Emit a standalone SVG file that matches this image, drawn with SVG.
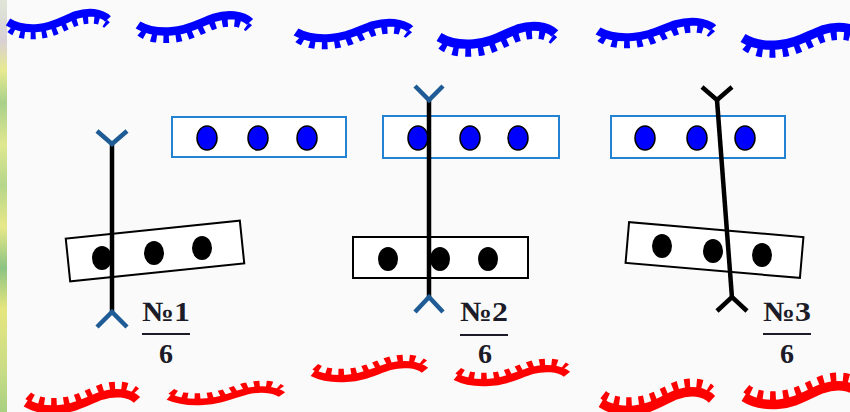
<svg xmlns="http://www.w3.org/2000/svg" xmlns:xlink="http://www.w3.org/1999/xlink" width="850" height="412" viewBox="0 0 850 412">
<style>
.wb{fill:none;stroke:#0000ff;stroke-width:8}
.wbt{fill:none;stroke:#0000ff;stroke-width:8;stroke-dasharray:5 6}
.wr{fill:none;stroke:#ff0000;stroke-width:8}
.wrt{fill:none;stroke:#ff0000;stroke-width:8;stroke-dasharray:5 6}
.brect{fill:#ffffff;stroke:#2382d2;stroke-width:2}
.krect{fill:#ffffff;stroke:#000000;stroke-width:2}
.bdot{fill:#0000ff;stroke:#000000;stroke-width:1.5}
.kdot{fill:#000000}
.axis{stroke:#000000;stroke-width:4.5;fill:none}
.yb{stroke:#1f5b94;stroke-width:4.5;fill:none}
.yk{stroke:#000000;stroke-width:4.5;fill:none}
.lbl{font-family:"Liberation Serif","DejaVu Serif",serif;font-weight:bold;font-size:28px;fill:#1c1c28}
.bar{stroke:#1c1c28;stroke-width:2}
</style>
<defs>
<linearGradient id="strip" x1="0" y1="0" x2="0" y2="1">
<stop offset="0" stop-color="#dfe6d8"/>
<stop offset="0.1" stop-color="#d8d0d4"/>
<stop offset="0.17" stop-color="#e8ea90"/>
<stop offset="0.25" stop-color="#a8d08a"/>
<stop offset="0.35" stop-color="#e0e890"/>
<stop offset="0.45" stop-color="#b5d68a"/>
<stop offset="0.55" stop-color="#e8e888"/>
<stop offset="0.65" stop-color="#8cc484"/>
<stop offset="0.75" stop-color="#e6e67e"/>
<stop offset="0.9" stop-color="#c8dc86"/>
<stop offset="1" stop-color="#a8d080"/>
</linearGradient>
<g id="wormB">
<path class="wb" d="M0,0 C8,5 18,7 30,6 C45,5 55,-2 68,-7 C80,-11 93,-10 100,-3"/>
<path class="wbt" transform="translate(0,7)" d="M2,0 C8,5 18,7 30,6 C45,5 55,-2 68,-7 C80,-11 93,-10 99,-4"/>
</g>
<g id="wormR">
<path class="wr" d="M0,0 C8,5 18,7 30,6 C45,5 55,-2 68,-7 C80,-11 93,-10 100,-3"/>
<path class="wrt" transform="translate(0,-7)" d="M2,0 C8,5 18,7 30,6 C45,5 55,-2 68,-7 C80,-11 93,-10 99,-4"/>
</g>
</defs>
<rect x="0" y="0" width="850" height="412" fill="#fafafa"/>
<rect x="0" y="0" width="7" height="412" fill="url(#strip)"/>

<g id="blue-worms">
<use xlink:href="#wormB" transform="translate(8,22)"/>
<use xlink:href="#wormB" transform="translate(138,25) scale(1.12,1.05)"/>
<use xlink:href="#wormB" transform="translate(296,32) scale(1.14,1)"/>
<use xlink:href="#wormB" transform="translate(439,37) scale(1.16,1.15)"/>
<use xlink:href="#wormB" transform="translate(598,31) scale(1.15,1)"/>
<use xlink:href="#wormB" transform="translate(743,38) scale(1.17,1.15)"/>
</g>
<g id="red-worms">
<use xlink:href="#wormR" transform="translate(26,403) scale(1.11,1.05)"/>
<use xlink:href="#wormR" transform="translate(169,397) scale(1.13,0.8)"/>
<use xlink:href="#wormR" transform="translate(313,373) scale(1.12,0.9)"/>
<use xlink:href="#wormR" transform="translate(456,377) scale(1.11,0.9)"/>
<use xlink:href="#wormR" transform="translate(601,403) scale(1.11,1.2)"/>
<use xlink:href="#wormR" transform="translate(744,397) scale(1.15,1.2)"/>
</g>

<g id="panel1">
<rect class="brect" x="172" y="117" width="174" height="40"/>
<ellipse class="bdot" cx="207" cy="138" rx="10" ry="12"/>
<ellipse class="bdot" cx="258" cy="138" rx="10" ry="12"/>
<ellipse class="bdot" cx="307" cy="138" rx="10" ry="12"/>
<rect class="krect" x="67.5" y="229.5" width="175" height="43" transform="rotate(-5.9 155 251)"/>
<ellipse class="kdot" cx="102" cy="258" rx="10" ry="12"/>
<ellipse class="kdot" cx="154" cy="253" rx="10" ry="12"/>
<ellipse class="kdot" cx="202" cy="248" rx="10" ry="12"/>
<line class="axis" x1="112" y1="143" x2="112" y2="313"/>
<polyline class="yb" points="97,131 112,144 127,131"/>
<polyline class="yb" points="97,327 112,312 127,327"/>
<text class="lbl" x="142" y="321" textLength="48" lengthAdjust="spacingAndGlyphs">№1</text>
<line class="bar" x1="142" y1="334" x2="190" y2="334"/>
<text class="lbl" x="166" y="363" text-anchor="middle">6</text>
</g>

<g id="panel2">
<rect class="brect" x="383" y="116" width="176" height="42"/>
<ellipse class="bdot" cx="418" cy="138" rx="10" ry="12"/>
<ellipse class="bdot" cx="470" cy="138" rx="10" ry="12"/>
<ellipse class="bdot" cx="518" cy="138" rx="10" ry="12"/>
<rect class="krect" x="353" y="237" width="175" height="41"/>
<ellipse class="kdot" cx="388" cy="259" rx="10" ry="12"/>
<ellipse class="kdot" cx="440" cy="259" rx="10" ry="12"/>
<ellipse class="kdot" cx="488" cy="259" rx="10" ry="12"/>
<line class="axis" x1="429" y1="100" x2="429" y2="298"/>
<polyline class="yb" points="415,86 429,100 443,86"/>
<polyline class="yb" points="415,312 429,297 443,312"/>
<text class="lbl" x="460" y="321" textLength="48" lengthAdjust="spacingAndGlyphs">№2</text>
<line class="bar" x1="460" y1="335" x2="508" y2="335"/>
<text class="lbl" x="485" y="363" text-anchor="middle">6</text>
</g>

<g id="panel3">
<rect class="brect" x="611" y="116" width="174" height="42"/>
<ellipse class="bdot" cx="645" cy="138" rx="10" ry="12"/>
<ellipse class="bdot" cx="697" cy="138" rx="10" ry="12"/>
<ellipse class="bdot" cx="745" cy="138" rx="10" ry="12"/>
<rect class="krect" x="627" y="229.5" width="175" height="41" transform="rotate(4.9 714.5 250)"/>
<ellipse class="kdot" cx="662" cy="246" rx="10" ry="12"/>
<ellipse class="kdot" cx="713" cy="251" rx="10" ry="12"/>
<ellipse class="kdot" cx="762" cy="255" rx="10" ry="12"/>
<line class="axis" x1="717" y1="100" x2="732" y2="298"/>
<polyline class="yk" points="702,87 717,100 732,87"/>
<polyline class="yk" points="717,311 732,297 747,311"/>
<text class="lbl" x="763" y="321" textLength="48" lengthAdjust="spacingAndGlyphs">№3</text>
<line class="bar" x1="763" y1="334" x2="811" y2="334"/>
<text class="lbl" x="787" y="363" text-anchor="middle">6</text>
</g>
</svg>
